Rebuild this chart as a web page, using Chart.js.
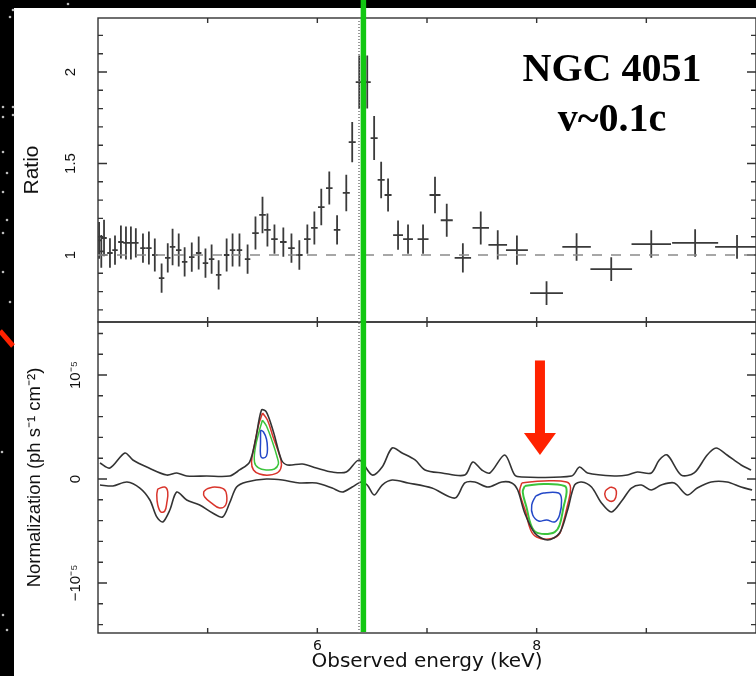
<!DOCTYPE html>
<html>
<head>
<meta charset="utf-8">
<script src="https://cdn.jsdelivr.net/npm/chart.js@4.4.1/dist/chart.umd.min.js"></script>
<style>
  html, body { margin: 0; padding: 0; background: #000; }
  #wrap { position: relative; width: 756px; height: 676px; overflow: hidden; }
  #c { position: absolute; left: 0; top: 0; }
  #label { position: absolute; left: 500px; top: 43px; width: 224px; text-align: center;
           font: bold 40px "Liberation Serif", "Times New Roman", serif; line-height: 50px; color: #000; }
</style>
</head>
<body>
<div id="wrap">
  <canvas id="c" width="756" height="676"></canvas>
  <div id="label">NGC 4051<br>v~0.1c</div>
</div>
<script>
// --- top panel: data/model ratio ---
var energy = [4.01, 4.03, 4.055, 4.109, 4.155, 4.209, 4.255, 4.30, 4.345, 4.41,
              4.464, 4.518, 4.58, 4.636, 4.68, 4.736, 4.79, 4.855, 4.918, 4.98,
              5.036, 5.1, 5.173, 5.227, 5.29, 5.364, 5.436, 5.5, 5.545, 5.609,
              5.69, 5.764, 5.836, 5.909, 5.973, 6.036, 6.109, 6.18, 6.264, 6.318,
              6.382, 6.455, 6.518, 6.582, 6.645, 6.736, 6.827, 6.964, 7.073, 7.18,
              7.327, 7.49, 7.645, 7.82, 8.09, 8.364, 8.68, 9.045, 9.445, 9.827];
var energyHalf = [0.025, 0.025, 0.025, 0.025, 0.025, 0.025, 0.025, 0.025, 0.025, 0.025,
                  0.025, 0.025, 0.025, 0.025, 0.025, 0.025, 0.025, 0.025, 0.025, 0.025,
                  0.025, 0.025, 0.025, 0.025, 0.025, 0.025, 0.03, 0.03, 0.03, 0.03,
                  0.03, 0.03, 0.03, 0.03, 0.03, 0.03, 0.03, 0.03, 0.032, 0.032,
                  0.032, 0.032, 0.032, 0.032, 0.032, 0.045, 0.045, 0.05, 0.05, 0.055,
                  0.075, 0.075, 0.085, 0.1, 0.15, 0.13, 0.19, 0.18, 0.21, 0.2];
var ratio = [1.08, 1.02, 1.093, 1.011, 1.027, 1.071, 1.066, 1.066, 1.066, 1.038,
             1.038, 1.0, 0.874, 0.984, 1.044, 1.027, 0.962, 0.989, 1.011, 0.956,
             0.978, 0.891, 1.0, 1.027, 1.027, 0.978, 1.12, 1.219, 1.137, 1.087,
             1.071, 1.038, 1.0, 1.087, 1.148, 1.262, 1.366, 1.137, 1.339, 1.617,
             1.945, 1.945, 1.639, 1.41, 1.328, 1.109, 1.087, 1.087, 1.328, 1.19,
             0.984, 1.148, 1.055, 1.027, 0.792, 1.044, 0.923, 1.06, 1.066, 1.044];
var ratioErr = [0.1, 0.09, 0.1, 0.08, 0.08, 0.09, 0.09, 0.09, 0.08, 0.08,
                0.09, 0.09, 0.08, 0.08, 0.1, 0.09, 0.08, 0.08, 0.09, 0.08,
                0.08, 0.08, 0.09, 0.09, 0.09, 0.08, 0.09, 0.1, 0.09, 0.08,
                0.08, 0.08, 0.08, 0.08, 0.09, 0.1, 0.09, 0.08, 0.1, 0.11,
                0.145, 0.145, 0.12, 0.1, 0.09, 0.08, 0.08, 0.08, 0.1, 0.09,
                0.08, 0.09, 0.08, 0.08, 0.065, 0.075, 0.065, 0.075, 0.075, 0.065];

// --- bottom panel: normalization contours, in units of 1e-5 ph/s/cm2 ---
var upperE = [4.018, 4.109, 4.245, 4.318, 4.445, 4.627, 4.718, 4.809, 4.991, 5.2, 5.291, 5.382,
              5.436, 5.491, 5.536, 5.6, 5.673, 5.727, 5.864, 5.991, 6.136, 6.264, 6.382, 6.5,
              6.591, 6.682, 6.773, 6.891, 6.982, 7.136, 7.345, 7.418, 7.5, 7.573, 7.709, 7.8,
              7.864, 8.318, 8.391, 8.464, 8.709, 8.827, 8.918, 9.045, 9.118, 9.191, 9.318,
              9.436, 9.555, 9.636, 9.736, 9.864, 9.955];
var upperN = [0.154, 0.106, 0.25, 0.183, 0.115, 0.038, 0.058, 0.029, 0.029, 0.029, 0.087, 0.163,
              0.375, 0.663, 0.644, 0.452, 0.183, 0.135, 0.144, 0.106, 0.067, 0.067, 0.183, 0.038,
              0.115, 0.298, 0.25, 0.183, 0.087, 0.058, 0.038, 0.163, 0.087, 0.058, 0.231, 0.038,
              0.019, 0.029, 0.115, 0.058, 0.029, 0.038, 0.067, 0.058, 0.183, 0.231, 0.038,
              0.058, 0.231, 0.298, 0.231, 0.135, 0.087];
var lowerE = [4.018, 4.136, 4.264, 4.382, 4.473, 4.536, 4.591, 4.655, 4.718, 4.809, 4.927, 5.045,
              5.136, 5.2, 5.264, 5.355, 5.536, 5.682, 5.836, 5.991, 6.136, 6.227, 6.318, 6.4,
              6.455, 6.518, 6.591, 6.682, 6.827, 7.045, 7.255, 7.345, 7.436, 7.555, 7.682, 7.773,
              7.827, 7.891, 7.982, 8.1, 8.209, 8.282, 8.345, 8.409, 8.5, 8.591, 8.682, 8.782,
              8.864, 8.955, 9.045, 9.136, 9.255, 9.373, 9.464, 9.591, 9.736, 9.864, 9.964];
var lowerN = [-0.058, -0.067, -0.029, -0.087, -0.202, -0.365, -0.413, -0.298, -0.125, -0.202, -0.25, -0.327,
              -0.365, -0.231, -0.077, -0.029, 0, -0.01, -0.038, -0.038, -0.087, -0.125, -0.077, -0.029,
              -0.058, -0.154, -0.058, -0.01, -0.038, -0.087, -0.183, -0.038, -0.029, -0.077, -0.029, -0.038,
              -0.106, -0.327, -0.519, -0.587, -0.519, -0.298, -0.058, -0.029, -0.077, -0.231, -0.317, -0.202,
              -0.087, -0.058, -0.106, -0.058, -0.038, -0.154, -0.087, -0.029, -0.029, -0.077, -0.106];

// emission line near 5.5 keV
var emisRedE = [5.5, 5.545, 5.6, 5.655, 5.673, 5.645, 5.564, 5.473, 5.418, 5.4, 5.427, 5.464];
var emisRedN = [0.635, 0.567, 0.394, 0.231, 0.135, 0.067, 0.038, 0.048, 0.087, 0.163, 0.327, 0.519];
var emisGreenE = [5.5, 5.536, 5.591, 5.636, 5.645, 5.609, 5.536, 5.464, 5.427, 5.436, 5.473];
var emisGreenN = [0.567, 0.51, 0.356, 0.202, 0.144, 0.096, 0.087, 0.106, 0.163, 0.308, 0.471];
var emisBlueE = [5.482, 5.509, 5.536, 5.545, 5.536, 5.5, 5.482, 5.482];
var emisBlueN = [0.471, 0.452, 0.385, 0.298, 0.221, 0.202, 0.231, 0.356];
// absorption near 4.6 and 5.1 keV
var absA_E = [4.545, 4.609, 4.636, 4.627, 4.609, 4.573, 4.545, 4.536];
var absA_N = [-0.096, -0.077, -0.125, -0.231, -0.308, -0.317, -0.25, -0.154];
var absB_E = [4.991, 5.064, 5.145, 5.173, 5.164, 5.109, 5.036, 4.973, 4.964];
var absB_N = [-0.096, -0.077, -0.096, -0.154, -0.25, -0.279, -0.231, -0.173, -0.125];
// absorption trough near 8 keV
var absRedE = [7.864, 8.064, 8.273, 8.309, 8.282, 8.236, 8.2, 8.109, 8.0, 7.945, 7.9, 7.845];
var absRedN = [-0.038, -0.019, -0.029, -0.087, -0.25, -0.442, -0.538, -0.577, -0.558, -0.49, -0.317, -0.125];
var absGreenE = [7.891, 8.064, 8.255, 8.273, 8.245, 8.209, 8.164, 8.073, 7.991, 7.945, 7.909, 7.873];
var absGreenN = [-0.067, -0.048, -0.067, -0.125, -0.269, -0.442, -0.51, -0.529, -0.51, -0.433, -0.279, -0.125];
var absBlueE = [7.991, 8.064, 8.2, 8.227, 8.209, 8.164, 8.091, 8.018, 7.964, 7.955];
var absBlueN = [-0.163, -0.135, -0.135, -0.202, -0.346, -0.413, -0.394, -0.404, -0.346, -0.25];
// small one near 8.7 keV
var absC_E = [8.673, 8.718, 8.727, 8.709, 8.664, 8.627, 8.627];
var absC_N = [-0.077, -0.096, -0.144, -0.202, -0.212, -0.173, -0.115];

// axes
var xRange = [4, 10];
var ratioRange = [0.634, 2.295];
var normRange = [-1.481, 1.51];
var xTicks = [5, 6, 7, 8, 9];
var xLabels = [6, 8];
var ratioTicks = [0.7, 0.8, 0.9, 1, 1.1, 1.2, 1.3, 1.4, 1.5, 1.6, 1.7, 1.8, 1.9, 2, 2.1, 2.2];
var ratioLabels = [1, 1.5, 2];
var normTicks = [-1.4, -1.2, -1, -0.8, -0.6, -0.4, -0.2, 0, 0.2, 0.4, 0.6, 0.8, 1, 1.2, 1.4];
var normLabels = [-1, 0, 1];
var normLabelText = ['\u221210\u207b\u2075', '0', '10\u207b\u2075'];

// markers
var lineEnergy = 6.38;     // dotted line
var greenEnergy = 6.42;    // green bar
var arrowEnergy = 8.03;
var arrowNorm = [1.14, 0.23];

function pts(xs, ys, close) {
    var out = xs.map(function (x, i) { return {x: x, y: ys[i]}; });
    if (close) out.push({x: xs[0], y: ys[0]});
    return out;
}

// error bar crosses, broken up with null gaps
var errPts = [];
for (var i = 0; i < energy.length; i++) {
    errPts.push({x: energy[i] - energyHalf[i], y: ratio[i]});
    errPts.push({x: energy[i] + energyHalf[i], y: ratio[i]});
    errPts.push({x: energy[i], y: null});
    errPts.push({x: energy[i], y: ratio[i] - ratioErr[i]});
    errPts.push({x: energy[i], y: ratio[i] + ratioErr[i]});
    errPts.push({x: energy[i], y: null});
}

var RED = '#d9342b', GREEN = '#3cc43c', BLUE = '#2448c8', BLACK = '#333';

function loop(xs, ys, color, w) {
    return {data: pts(xs, ys, true), yAxisID: 'yN', borderColor: color, borderWidth: w || 1.5, tension: 0.4, fill: false};
}

var stars = [[13, 10], [10, 17], [3, 107], [13, 107], [3, 117], [13, 115], [3, 152], [7, 173],
             [3, 192], [7, 220], [3, 233], [3, 272], [10, 302], [2, 452], [3, 615], [7, 630], [68, 4]];

var framePlugin = {
    id: 'frame',
    beforeDraw: function (chart) {
        var ctx = chart.ctx;
        ctx.save();
        ctx.fillStyle = '#000';
        ctx.fillRect(0, 0, chart.width, chart.height);
        ctx.fillStyle = '#fff';
        ctx.fillRect(14, 8, chart.width - 14, chart.height - 8);
        ctx.fillStyle = '#bbb';
        stars.forEach(function (s) {
            ctx.beginPath(); ctx.arc(s[0], s[1], 1.3, 0, Math.PI * 2); ctx.fill();
        });
        ctx.strokeStyle = '#ff2200';
        ctx.lineWidth = 5;
        ctx.beginPath(); ctx.moveTo(0, 331); ctx.lineTo(13, 346); ctx.stroke();
        ctx.restore();
    },
    beforeDatasetsDraw: function (chart) {
        var ctx = chart.ctx, x = chart.scales.x;
        ctx.save();
        ctx.strokeStyle = '#333';
        ctx.lineWidth = 1.4;
        [chart.scales.yR, chart.scales.yN].forEach(function (y) {
            ctx.strokeRect(x.left, y.top, x.right - x.left, y.bottom - y.top);
            ctx.beginPath();
            y.ticks.forEach(function (t) {
                var p = y.getPixelForValue(t.value);
                var len = t.label ? 9 : 5;
                ctx.moveTo(x.left, p); ctx.lineTo(x.left + len, p);
                ctx.moveTo(x.right, p); ctx.lineTo(x.right - len, p);
            });
            x.ticks.forEach(function (t) {
                var p = x.getPixelForValue(t.value);
                ctx.moveTo(p, y.top); ctx.lineTo(p, y.top + 5);
                ctx.moveTo(p, y.bottom); ctx.lineTo(p, y.bottom - 5);
            });
            ctx.stroke();
        });
        ctx.restore();
    }
};

var marksPlugin = {
    id: 'marks',
    afterDatasetsDraw: function (chart) {
        var ctx = chart.ctx, x = chart.scales.x, yN = chart.scales.yN;
        ctx.save();
        // green line
        var gx = x.getPixelForValue(greenEnergy);
        ctx.strokeStyle = '#12c812';
        ctx.lineWidth = 5.5;
        ctx.beginPath(); ctx.moveTo(gx, 0); ctx.lineTo(gx, yN.bottom - 1); ctx.stroke();
        // red arrow
        var ax = x.getPixelForValue(arrowEnergy);
        var top = yN.getPixelForValue(arrowNorm[0]);
        var tip = yN.getPixelForValue(arrowNorm[1]);
        ctx.fillStyle = '#ff2200';
        ctx.fillRect(ax - 5, top, 10, tip - top - 20);
        ctx.beginPath();
        ctx.moveTo(ax - 16, tip - 22); ctx.lineTo(ax + 16, tip - 22); ctx.lineTo(ax, tip);
        ctx.closePath(); ctx.fill();
        ctx.restore();
    }
};

function noPad(s) { s.paddingTop = 0; s.paddingBottom = 0; }

Chart.defaults.color = '#111';
Chart.defaults.elements.point.radius = 0;

new Chart(document.getElementById('c'), {
    type: 'line',
    data: {
        datasets: [
            {data: pts(xRange, [1, 1]), yAxisID: 'yR', borderColor: '#8a8a8a', borderWidth: 1.5, borderDash: [10, 9]},
            {data: pts([lineEnergy, lineEnergy], ratioRange), yAxisID: 'yR', borderColor: '#777', borderWidth: 1.5, borderDash: [1, 2]},
            {data: pts([lineEnergy, lineEnergy], normRange), yAxisID: 'yN', borderColor: '#777', borderWidth: 1.5, borderDash: [1, 2]},
            {data: errPts, yAxisID: 'yR', borderColor: '#3a3a3a', borderWidth: 1.8, spanGaps: false},
            {data: pts(upperE, upperN), yAxisID: 'yN', borderColor: BLACK, borderWidth: 1.6, tension: 0.3},
            {data: pts(lowerE, lowerN), yAxisID: 'yN', borderColor: BLACK, borderWidth: 1.6, tension: 0.3},
            loop(emisRedE, emisRedN, RED),
            loop(emisGreenE, emisGreenN, GREEN),
            loop(emisBlueE, emisBlueN, BLUE),
            loop(absA_E, absA_N, RED),
            loop(absB_E, absB_N, RED),
            loop(absRedE, absRedN, RED),
            loop(absGreenE, absGreenN, GREEN, 2),
            loop(absBlueE, absBlueN, BLUE),
            loop(absC_E, absC_N, RED)
        ]
    },
    options: {
        responsive: false,
        devicePixelRatio: 1,
        animation: false,
        events: [],
        layout: {padding: {left: 0, top: 18, right: -2, bottom: 0}},
        plugins: {legend: {display: false}, tooltip: {enabled: false}},
        scales: {
            x: {
                type: 'linear', min: xRange[0], max: xRange[1],
                afterBuildTicks: function (s) { s.ticks = xTicks.map(function (v) { return {value: v}; }); },
                afterFit: function (s) { s.height = 43; s.paddingLeft = 0; s.paddingRight = 0; },
                grid: {display: false, drawTicks: false},
                border: {display: false},
                ticks: {
                    autoSkip: false, maxRotation: 0, padding: 5,
                    font: {family: 'DejaVu Sans', size: 14},
                    callback: function (v) { return xLabels.indexOf(v) >= 0 ? String(v) : ''; }
                },
                title: {display: true, text: 'Observed energy (keV)', font: {family: 'DejaVu Sans', size: 20},
                        padding: {top: 0, bottom: 2}}
            },
            yN: {
                type: 'linear', position: 'left', stack: 'v', stackWeight: 311, weight: 1,
                min: normRange[0], max: normRange[1],
                afterBuildTicks: function (s) { s.ticks = normTicks.map(function (v) { return {value: v}; }); },
                afterFit: function (s) { s.width = 98; noPad(s); },
                grid: {display: false, drawTicks: false},
                border: {display: false},
                ticks: {
                    autoSkip: false, minRotation: 90, maxRotation: 90, crossAlign: 'center', padding: 4,
                    font: {family: 'Liberation Sans', size: 15},
                    callback: function (v) { var k = normLabels.indexOf(v); return k >= 0 ? normLabelText[k] : ''; }
                },
                title: {display: true, text: 'Normalization (ph s\u207b\u00b9 cm\u207b\u00b2)',
                        font: {family: '"Liberation Sans Narrow", "Liberation Sans", sans-serif', size: 18.5},
                        padding: {top: 24, bottom: 0}}
            },
            yR: {
                type: 'linear', position: 'left', stack: 'v', stackWeight: 304, weight: 2,
                min: ratioRange[0], max: ratioRange[1],
                afterBuildTicks: function (s) { s.ticks = ratioTicks.map(function (v) { return {value: v}; }); },
                afterFit: function (s) { s.width = 98; noPad(s); },
                grid: {display: false, drawTicks: false},
                border: {display: false},
                ticks: {
                    autoSkip: false, minRotation: 90, maxRotation: 90, crossAlign: 'center', padding: 17,
                    font: {family: 'Liberation Sans', size: 15},
                    callback: function (v) { return ratioLabels.indexOf(v) >= 0 ? String(v) : ''; }
                },
                title: {display: true, text: 'Ratio',
                        font: {family: '"Liberation Sans Narrow", "Liberation Sans", sans-serif', size: 21},
                        padding: {top: 20, bottom: 0}}
            }
        }
    },
    plugins: [framePlugin, marksPlugin]
});
</script>
</body>
</html>
